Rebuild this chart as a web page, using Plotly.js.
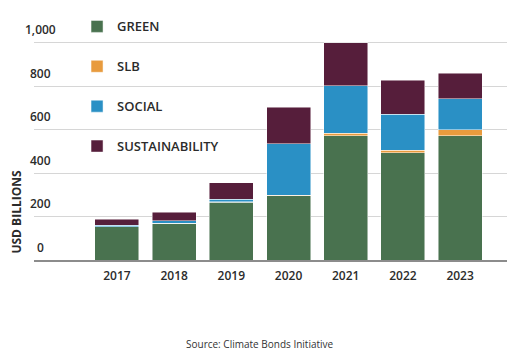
<!DOCTYPE html>
<html>
<head>
<meta charset="utf-8">
<script src="https://cdn.plot.ly/plotly-3.0.1.min.js"></script>
<style>html,body{margin:0;padding:0;background:#fff;}#chart{width:511px;height:357px;}</style>
</head>
<body>
<div id="chart"></div>
<script>
var years = ['2017', '2018', '2019', '2020', '2021', '2022', '2023'];
var green = [153, 169, 267, 295, 573, 495, 573];
var slb = [0, 1, 2, 3, 11, 10, 28];
var social = [8, 11, 11, 237, 218, 166, 143];
var sustainability = [26, 40, 76, 169, 198, 157, 116];
var seriesNames = ['GREEN', 'SLB', 'SOCIAL', 'SUSTAINABILITY'];
var seriesColors = ['#49724F', '#E89B3E', '#2A90C5', '#561E3B'];
var yTickVals = [0, 200, 400, 600, 800, 1000];
var yTickText = ['0', '200', '400', '600', '800', '1,000'];
var yAxisTitle = 'USD BILLIONS';
var sourceText = 'Source: Climate Bonds Initiative';

var FONT = '"Open Sans", "DejaVu Sans", sans-serif';
var seriesValues = [green, slb, social, sustainability];
var traces = seriesValues.map(function (vals, i) {
  return {
    type: 'bar',
    name: seriesNames[i],
    x: years,
    y: vals,
    legendgroup: 'g' + i,
    marker: {color: seriesColors[i], line: {color: 'rgba(255,255,255,0.8)', width: 0.6}},
    hoverinfo: 'x+y+name'
  };
});

var annotations = yTickVals.map(function (v, i) {
  return {
    xref: 'paper', yref: 'y', x: 0.0127, y: v, yshift: 13,
    text: yTickText[i], showarrow: false, xanchor: 'center', yanchor: 'middle',
    font: {family: FONT, size: 12, color: '#2b2b2b', weight: 600}
  };
});
annotations.push({
  xref: 'paper', yref: 'paper', x: -0.036, y: 0.221, textangle: -90,
  text: yAxisTitle, showarrow: false, xanchor: 'center', yanchor: 'middle',
  font: {family: FONT, size: 12, color: '#2b2b2b', weight: 700}
});
annotations.push({
  xref: 'paper', yref: 'paper', x: 0.478, y: -0.384,
  text: sourceText, showarrow: false, xanchor: 'center', yanchor: 'middle',
  font: {family: FONT, size: 10, color: '#333333'}
});

var layout = {
  width: 511, height: 357,
  margin: {l: 34, r: 4, t: 41, b: 97},
  paper_bgcolor: '#ffffff', plot_bgcolor: '#ffffff',
  barmode: 'stack',
  bargap: 0.23,
  showlegend: true,
  legend: {
    x: 0.091, y: 1.135, xanchor: 'left', yanchor: 'top',
    traceorder: 'grouped', tracegroupgap: 20,
    font: {family: FONT, size: 13, color: '#2b2b2b', weight: 600},
    bgcolor: 'rgba(0,0,0,0)'
  },
  xaxis: {
    type: 'category', range: [-1.45, 6.82],
    showline: true, linecolor: '#8c8c8c', linewidth: 2,
    showgrid: false, ticks: '', ticklabelstandoff: 4,
    tickfont: {family: FONT, size: 12, color: '#2b2b2b', weight: 600},
    fixedrange: true
  },
  yaxis: {
    range: [0, 1009], tickvals: yTickVals, showticklabels: false,
    showgrid: true, gridcolor: '#d6d6d6', gridwidth: 1,
    zeroline: false, showline: false, ticks: '', fixedrange: true
  },
  annotations: annotations,
  font: {family: FONT}
};

Plotly.newPlot('chart', traces, layout, {displayModeBar: false, staticPlot: true});
</script>
</body>
</html>
